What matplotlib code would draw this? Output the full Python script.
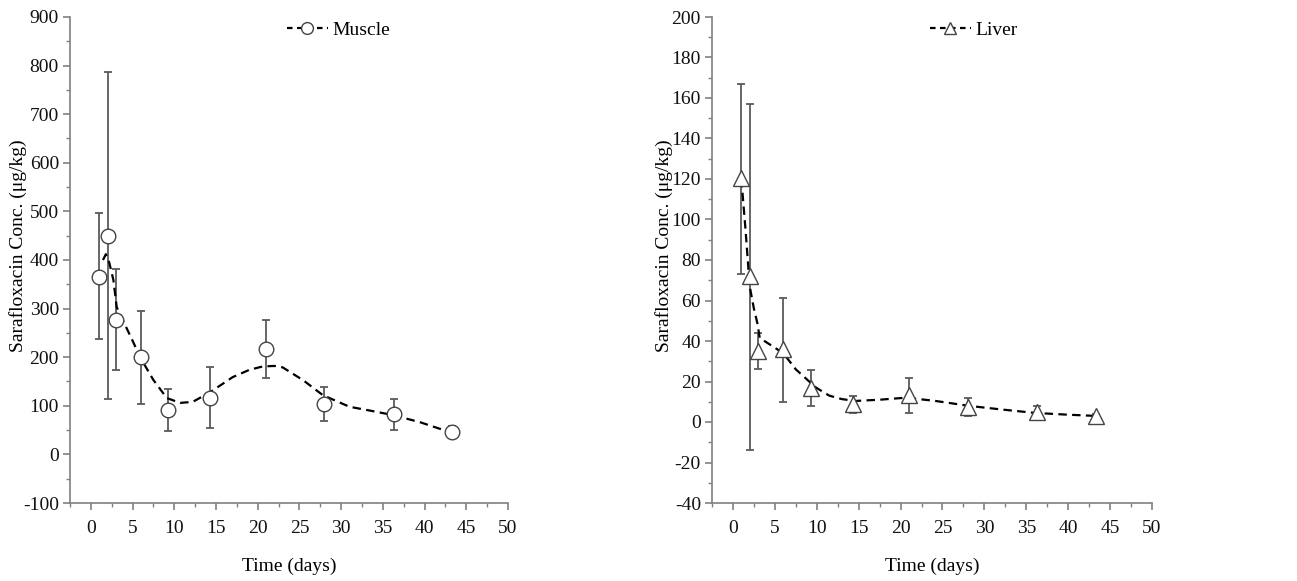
import matplotlib
matplotlib.use("Agg")
import matplotlib.pyplot as plt
from matplotlib.ticker import MultipleLocator

plt.rcParams['font.family'] = ['Liberation Serif', 'DejaVu Serif']
plt.rcParams['axes.unicode_minus'] = False

# ---- data ----
days = [1, 2, 3, 6, 9.3, 14.3, 21, 28, 36.3, 43.3]

muscle_mean = [366, 450, 277, 200, 92, 117, 217, 103, 83, 46]
muscle_upper = [497, 787, 381, 296, 134, 180, 277, 139, 115, 58]
muscle_lower = [237, 113, 173, 104, 49, 55, 157, 68, 50, 33]

muscle_fit_x = [1.45, 1.8, 2.2, 2.7, 3.1, 4.0, 5.0, 5.9, 7.5, 9.1, 10.7, 12.2, 14.3, 17.0, 19.0, 20.6, 22.0, 23.0, 25.5, 27.8, 31.0, 33.5, 36.2, 39.5, 43.0]
muscle_fit_y = [400, 412, 395, 359, 303, 270, 234, 200, 153, 116, 106, 108, 128, 159, 174, 181, 182, 179, 152, 122, 98, 90, 81, 66, 46]

liver_mean = [120.5, 72, 35, 36, 17, 9, 13.5, 7.5, 5, 3]
liver_upper = [167, 157, 44, 61, 25.5, 13, 21.5, 12, 8, 4]
liver_lower = [73, -14, 26, 10, 8, 4.5, 4.5, 3, 2, 2]

liver_fit_x = [1.0, 1.5, 2.0, 2.5, 2.9, 3.2, 4.5, 6.0, 7.5, 9.9, 11.5, 13.0, 14.6, 17.5, 20.6, 24.0, 28.1, 32.0, 36.0, 40.0, 43.3]
liver_fit_y = [120, 95, 67, 56, 49, 41.5, 38, 34, 26, 17, 13, 11.3, 10.4, 11, 12, 10.5, 8, 6.2, 4.5, 3.6, 3]

xticks = [0, 5, 10, 15, 20, 25, 30, 35, 40, 45, 50]
muscle_yticks = [-100, 0, 100, 200, 300, 400, 500, 600, 700, 800, 900]
liver_yticks = [-40, -20, 0, 20, 40, 60, 80, 100, 120, 140, 160, 180, 200]

# ---- figure ----
W, H = 1297, 581
fig = plt.figure(figsize=(W / 100, H / 100), dpi=100)
ax1 = fig.add_axes([70 / W, (H - 503) / H, 438 / W, 486 / H])
ax2 = fig.add_axes([712 / W, (H - 503) / H, 440 / W, 486 / H])

spine_col = '#808080'
err_col = '#5a5a5a'
FS = 14


def style(ax, yticks, yminor, ylim, ylab_x):
    for s in ['top', 'right']:
        ax.spines[s].set_visible(False)
    for s in ['left', 'bottom']:
        ax.spines[s].set_color(spine_col)
        ax.spines[s].set_linewidth(1.2)
    ax.set_xlim(-2.5, 50)
    ax.set_ylim(*ylim)
    ax.set_xticks(xticks)
    ax.set_yticks(yticks)
    ax.xaxis.set_minor_locator(MultipleLocator(2.5))
    ax.yaxis.set_minor_locator(MultipleLocator(yminor))
    ax.tick_params(which='major', direction='out', length=5, width=1.2, color=spine_col,
                   labelsize=FS, labelcolor='#111111')
    ax.tick_params(axis='x', which='major', pad=7)
    ax.tick_params(axis='y', which='major', pad=3)
    ax.tick_params(which='minor', direction='out', length=3, width=1.0, color=spine_col)
    ax.set_xlabel('Time (days)', fontsize=FS, labelpad=15)
    ax.set_ylabel('Sarafloxacin Conc. (μg/kg)', fontsize=FS)
    ax.yaxis.set_label_coords(ylab_x, 0.53)


def draw(ax, mean, upper, lower, fx, fy, marker, label, ms):
    yerr = [[m - l for m, l in zip(mean, lower)], [u - m for m, u in zip(mean, upper)]]
    ax.errorbar(days, mean, yerr=yerr, fmt='none', ecolor=err_col, elinewidth=1.3,
                capsize=3, capthick=1.3, zorder=2)
    ax.plot(fx, fy, color='black', linestyle=(0, (3.8, 2.4)), linewidth=1.6, zorder=3)
    ax.plot(days, mean, linestyle='none', marker=marker, markersize=ms, markerfacecolor='white',
            markeredgecolor='#444444', markeredgewidth=1.0, zorder=4)
    h, = ax.plot([], [], color='black', linestyle=(0, (2.5, 2)), linewidth=1.6, marker=marker,
                 markersize=ms - 2, markerfacecolor='white', markeredgecolor='#444444',
                 markeredgewidth=1.0, label=label)
    ax.legend(handles=[h], loc='center left', bbox_to_anchor=(0.495, 0.973), frameon=False,
              fontsize=FS, handlelength=2.1, handletextpad=0.25, borderpad=0, borderaxespad=0)


style(ax1, muscle_yticks, 50, (-100, 900), -0.098)
style(ax2, liver_yticks, 10, (-40, 200), -0.089)
draw(ax1, muscle_mean, muscle_upper, muscle_lower, muscle_fit_x, muscle_fit_y, 'o', 'Muscle', 10.5)
draw(ax2, liver_mean, liver_upper, liver_lower, liver_fit_x, liver_fit_y, '^', 'Liver', 11)

fig.savefig('out.png', dpi=100)
